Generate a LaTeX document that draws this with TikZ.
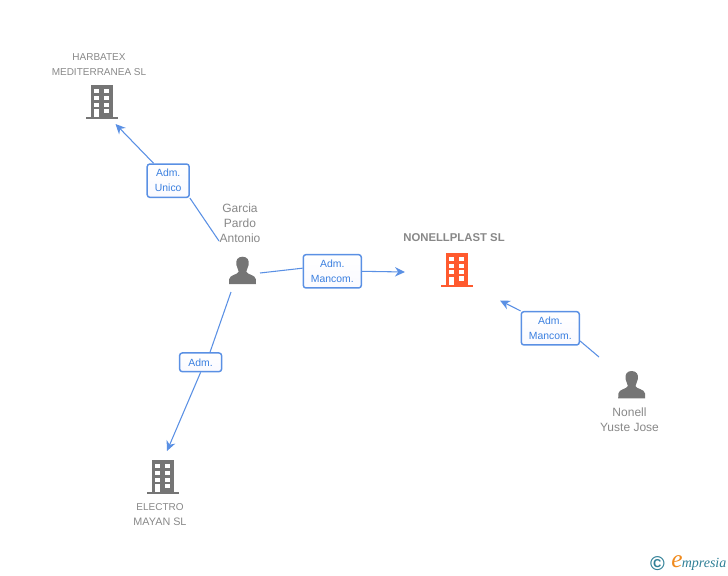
\documentclass[tikz,border=0pt]{standalone}
\usepackage{fontspec}
\setmainfont{Liberation Sans}
\newfontfamily\logofont{Liberation Serif}
\usetikzlibrary{arrows.meta}
\definecolor{linkblue}{HTML}{5A90E4}
\definecolor{boxtext}{HTML}{3A7FE0}
\definecolor{iconorange}{HTML}{FF5A2E}
\definecolor{icongray}{HTML}{757575}
\definecolor{textgray}{HTML}{888888}
\definecolor{logoteal}{HTML}{2F7F96}
\definecolor{logoorange}{HTML}{F08A1D}
\tikzset{
	pics/buildingicon/.style={code={
		\fill[#1] (0,0) rectangle (22,32);
		\fill[#1] (-5,32) rectangle (27,34);
		\foreach \wy in {4,11,17.5}{
			\fill[white] (3,\wy) rectangle (8.2,\wy+4.4);
			\fill[white] (13,\wy) rectangle (18.2,\wy+4.4);
		}
		\fill[white] (13,23.7) rectangle (18.2,28.3);
		\fill[white] (3,24) rectangle (8.2,32);
	}},
	pics/personicon/.style={code={
		\fill[icongray] (0,0) .. controls (4.8,0) and (6.9,3.5) .. (6.2,8)
			.. controls (5.8,11) and (4,12.5) .. (3.8,15)
			.. controls (4.5,18) and (13,18) .. (13.3,22.5)
			-- (13.5,27.3) -- (-13.5,27.3) -- (-13.3,22.5)
			.. controls (-13,18) and (-4.5,18) .. (-3.8,15)
			.. controls (-4,12.5) and (-5.8,11) .. (-6.2,8)
			.. controls (-6.9,3.5) and (-4.8,0) .. (0,0) -- cycle;
	}}
}
\begin{document}
\begin{tikzpicture}
		[x=.75pt,y=-.75pt,
		every node/.style={inner sep=0pt,align=center},
		firmlabel/.style={text=textgray,font=\fontsize{7.5}{11.25}\selectfont},
		personlabel/.style={text=textgray,font=\fontsize{9}{11.25}\selectfont},
		admbox/.style={draw=linkblue,line width=1.1pt,rounded corners=2pt,
			top color=white,bottom color=blue!2,
			text=boxtext,minimum width=43.5pt,minimum height=25pt,
			font=\fontsize{7.8}{11.25}\selectfont},
		linkline/.style={draw=linkblue,line width=.8pt},
		linkend/.style={linkline,-{Stealth[length=7.5pt,width=7pt]}}]

		\useasboundingbox (0,0) rectangle (728,575);

		\pic at (91,85) {buildingicon=icongray};
		\pic at (446,252.5) {buildingicon=iconorange};
		\pic at (152,460) {buildingicon=icongray};
		\pic at (242.5,256.7) {personicon};
		\pic at (631.7,371) {personicon};

		\node[firmlabel] (hb) at (99,64.3)  {HARBATEX\\MEDITERRANEA SL};
		\node[firmlabel] (em) at (160,514.8)  {ELECTRO\\{\fontsize{8.1}{11.25}\selectfont MAYAN SL}};
		\node[personlabel] (gp) at (240,223)  {Garcia\\Pardo\\Antonio};
		\node[personlabel] (ny) at (629.5,419.5)  {Nonell\\Yuste Jose};
		\node[text=textgray,font=\fontsize{8.5}{11}\selectfont\bfseries] (np) at (454,238)  {NONELLPLAST SL};

		\node[admbox,minimum width=31.5pt] (a1) at (168.2,180.7)  {Adm.\\Unico};
		\node[admbox] (a2) at (332.3,271.3)  {Adm.\\Mancom.};
		\node[admbox] (a3) at (550.3,328.3)  {Adm.\\Mancom.};
		\node[admbox,minimum width=31.5pt,minimum height=14pt] (a4) at (200.6,362.3)  {Adm.};

		\coordinate (s1) at (219,241);
		\coordinate (s2) at (260,273);
		\coordinate (s3) at (599,357);
		\coordinate (s4) at (231,292);
		\coordinate (e1) at (115.5,124);
		\coordinate (e2) at (405,272);
		\coordinate (e3) at (500,300.5);
		\coordinate (e4) at (167,451);

		\foreach \from/\to in {s1/a1.south east,s2/a2.174,s3/a3.-23,s4/a4.47}
		\draw[linkline] (\from) -- (\to);

		\foreach \from/\to in {a1.130/e1,a2.east/e2,a3.north west/e3,a4.south/e4}
		\draw[linkend] (\from) -- (\to);

		%%logo
		\node[text=logoteal,font=\fontsize{15}{15}\selectfont\bfseries] (cc) at (657.5,564) {©};
		\node[text=logoorange,font=\logofont\itshape\fontsize{19}{19}\selectfont] (le) at (677,562) {e};
		\node[text=logoteal,font=\logofont\itshape\fontsize{10.5}{10.5}\selectfont,anchor=west] (lm) at (681.5,564) {mpresia};
\end{tikzpicture}
\end{document}
